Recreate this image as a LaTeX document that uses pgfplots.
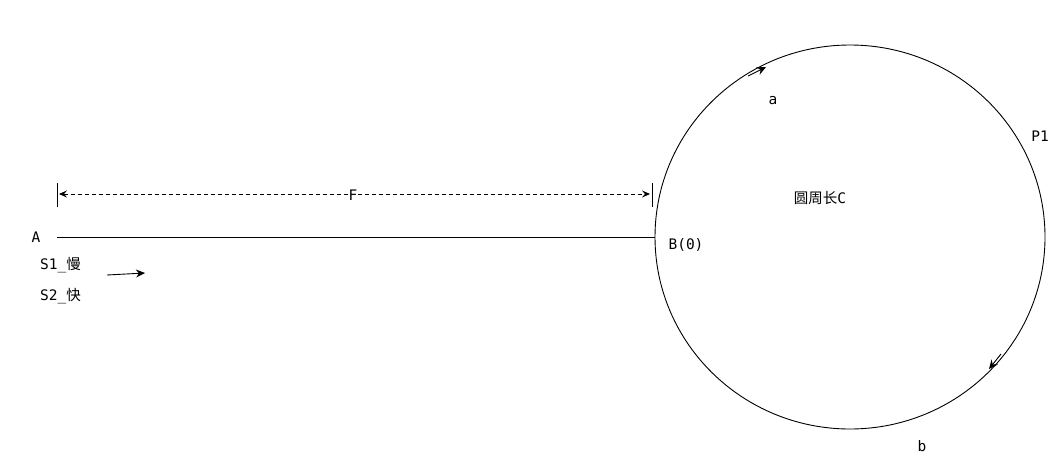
\documentclass[border=0pt]{standalone}
\usepackage{pgfplots}
\pgfplotsset{compat=1.18}
\usepackage{fontspec}
\setmainfont{DejaVu Sans Mono}
\newfontfamily\cjk{Noto Sans CJK SC}
\usetikzlibrary{arrows.meta}
\tikzset{ah/.style={-{Stealth[length=9pt,width=8pt,inset=3pt]}}, fs/.style={font=\fontsize{14.5}{16}\selectfont}}
\begin{document}
\begin{tikzpicture}
\begin{axis}[scale only axis, width=1054pt, height=461pt, xmin=0, xmax=1054, ymin=0, ymax=461,
  y dir=reverse, hide axis, clip=false]
\path (axis cs:0,0) rectangle (axis cs:1054,461);
\addplot[black, line width=0.9pt] coordinates {(57,237) (655,237)};
\addplot[black, line width=0.9pt] coordinates {(57,183) (57,207)};
\addplot[black, line width=0.9pt] coordinates {(652,183) (652,207)};
\addplot[black, line width=0.9pt, dash pattern=on 4pt off 3pt, {Stealth[length=8pt,width=7pt,inset=3pt]}-{Stealth[length=8pt,width=7pt,inset=3pt]}] coordinates {(59,194) (650,194)};
\addplot[black, line width=0.9pt, ah] coordinates {(107,275) (145,273)};
\draw[black, line width=0.9pt] (axis cs:850,237) ellipse [x radius=195, y radius=192];
\addplot[black, line width=0.9pt, ah] coordinates {(748,76) (766,67)};
\addplot[black, line width=0.9pt, ah] coordinates {(1001,354) (989,369)};
\node[fill=white, inner sep=1pt, fs] at (axis cs:353,195) {F};
\node[fs] at (axis cs:36,237) {A};
\node[fs, anchor=west, inner sep=0] at (axis cs:40,265) {S1\_{\cjk 慢}};
\node[fs, anchor=west, inner sep=0] at (axis cs:40,296) {S2\_{\cjk 快}};
\node[fs] at (axis cs:686,245) {B(0)};
\node[fs] at (axis cs:820,198) {{\cjk 圆周长}C};
\node[fs] at (axis cs:773,101) {a};
\node[fs] at (axis cs:1040,136) {P1};
\node[fs] at (axis cs:922,446) {b};
\end{axis}
\end{tikzpicture}
\end{document}
